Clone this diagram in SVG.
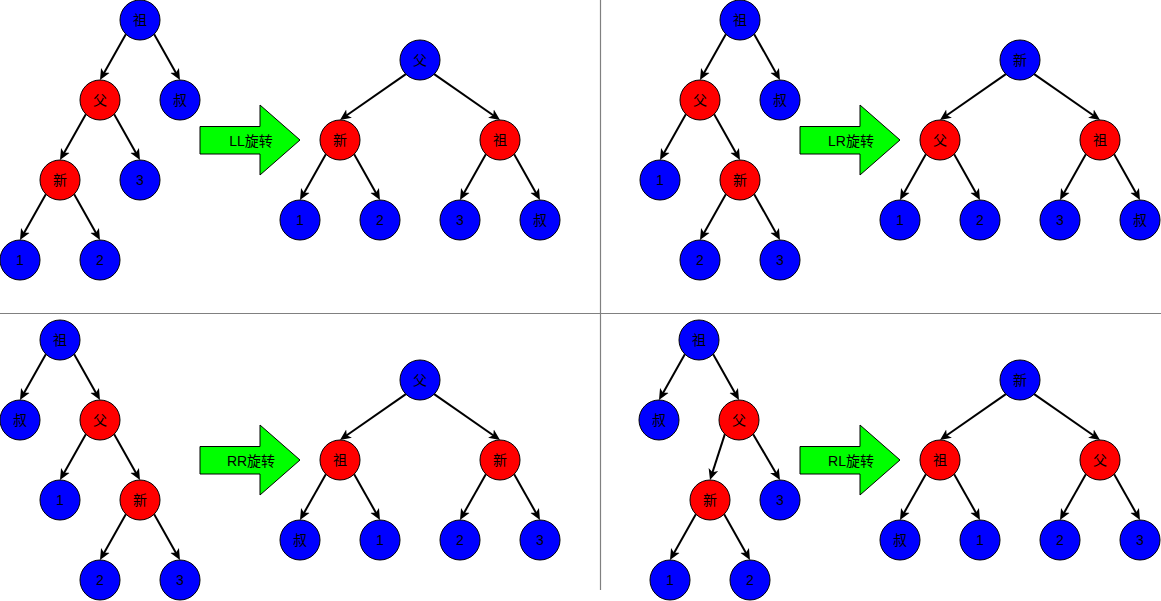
<svg xmlns="http://www.w3.org/2000/svg" width="1161" height="601" viewBox="0 0 1161 601">
<style>
.b{fill:#0000ff;stroke:#000;stroke-width:1}
.r{fill:#ff0000;stroke:#000;stroke-width:1}
text{font-family:"Liberation Sans","Noto Sans CJK SC",sans-serif;font-size:14px;fill:#000;text-anchor:middle}
.e line{stroke:#000;stroke-width:2;marker-end:url(#ah)}
.div{stroke:#808080;stroke-width:1.2}
.ga{fill:#00ff00;stroke:#000;stroke-width:1}
</style>
<defs>
<marker id="ah" markerUnits="userSpaceOnUse" markerWidth="11" markerHeight="11" viewBox="0 0 11 11" refX="4" refY="5.5" orient="auto">
<path d="M0,0.5 L11,5.5 L0,10.5 L2.8,5.5 Z" fill="#000"/>
</marker>
</defs>
<g id="dividers">
<line class="div" x1="600.5" y1="0" x2="600.5" y2="590"/>
<line class="div" x1="0" y1="313.5" x2="1161" y2="313.5"/>
</g>
<g id="connectors" class="e">
<line x1="125.86" y1="34.14" x2="103.44" y2="73.9"/>
<line x1="154.14" y1="34.14" x2="176.56" y2="73.9"/>
<line x1="85.86" y1="114.14" x2="63.44" y2="153.9"/>
<line x1="114.14" y1="114.14" x2="136.56" y2="153.9"/>
<line x1="45.86" y1="194.14" x2="23.44" y2="233.9"/>
<line x1="74.14" y1="194.14" x2="96.56" y2="233.9"/>
<line x1="405.86" y1="74.14" x2="345.74" y2="116"/>
<line x1="434.14" y1="74.14" x2="494.26" y2="116"/>
<line x1="325.86" y1="154.14" x2="303.44" y2="193.9"/>
<line x1="354.14" y1="154.14" x2="376.56" y2="193.9"/>
<line x1="485.86" y1="154.14" x2="463.44" y2="193.9"/>
<line x1="514.14" y1="154.14" x2="536.56" y2="193.9"/>
<line x1="725.86" y1="34.14" x2="703.44" y2="73.9"/>
<line x1="754.14" y1="34.14" x2="776.56" y2="73.9"/>
<line x1="685.86" y1="114.14" x2="663.44" y2="153.9"/>
<line x1="714.14" y1="114.14" x2="736.56" y2="153.9"/>
<line x1="725.86" y1="194.14" x2="703.44" y2="233.9"/>
<line x1="754.14" y1="194.14" x2="776.56" y2="233.9"/>
<line x1="1005.86" y1="74.14" x2="945.74" y2="116"/>
<line x1="1034.14" y1="74.14" x2="1094.26" y2="116"/>
<line x1="925.86" y1="154.14" x2="903.44" y2="193.9"/>
<line x1="954.14" y1="154.14" x2="976.56" y2="193.9"/>
<line x1="1085.86" y1="154.14" x2="1063.44" y2="193.9"/>
<line x1="1114.14" y1="154.14" x2="1136.56" y2="193.9"/>
<line x1="45.86" y1="354.14" x2="23.44" y2="393.9"/>
<line x1="74.14" y1="354.14" x2="96.56" y2="393.9"/>
<line x1="85.86" y1="434.14" x2="63.44" y2="473.9"/>
<line x1="114.14" y1="434.14" x2="136.56" y2="473.9"/>
<line x1="125.86" y1="514.14" x2="103.44" y2="553.9"/>
<line x1="154.14" y1="514.14" x2="176.56" y2="553.9"/>
<line x1="405.86" y1="394.14" x2="345.74" y2="436"/>
<line x1="434.14" y1="394.14" x2="494.26" y2="436"/>
<line x1="325.86" y1="474.14" x2="303.44" y2="513.9"/>
<line x1="354.14" y1="474.14" x2="376.56" y2="513.9"/>
<line x1="485.86" y1="474.14" x2="463.44" y2="513.9"/>
<line x1="514.14" y1="474.14" x2="536.56" y2="513.9"/>
<line x1="684.86" y1="354.14" x2="662.44" y2="393.9"/>
<line x1="713.14" y1="354.14" x2="735.56" y2="393.9"/>
<line x1="724.86" y1="434.14" x2="712.16" y2="473.34"/>
<line x1="753.14" y1="434.14" x2="776.46" y2="473.96"/>
<line x1="695.86" y1="514.14" x2="673.44" y2="553.9"/>
<line x1="724.14" y1="514.14" x2="746.56" y2="553.9"/>
<line x1="1005.86" y1="394.14" x2="945.74" y2="436"/>
<line x1="1034.14" y1="394.14" x2="1094.26" y2="436"/>
<line x1="925.86" y1="474.14" x2="903.44" y2="513.9"/>
<line x1="954.14" y1="474.14" x2="976.56" y2="513.9"/>
<line x1="1085.86" y1="474.14" x2="1063.44" y2="513.9"/>
<line x1="1114.14" y1="474.14" x2="1136.56" y2="513.9"/>
</g>
<g id="arrow-ll"><polygon class="ga" points="200,126.5 260,126.5 260,105 300,140 260,175 260,154 200,154"/><text x="251" y="146">LL旋转</text></g>
<g id="arrow-lr"><polygon class="ga" points="800,126.5 860,126.5 860,105 900,140 860,175 860,154 800,154"/><text x="851" y="146">LR旋转</text></g>
<g id="arrow-rr"><polygon class="ga" points="200,446.5 260,446.5 260,425 300,460 260,495 260,474 200,474"/><text x="251" y="466">RR旋转</text></g>
<g id="arrow-rl"><polygon class="ga" points="800,446.5 860,446.5 860,425 900,460 860,495 860,474 800,474"/><text x="851" y="466">RL旋转</text></g>
<g id="q1l-zu"><circle class="b" cx="140" cy="20" r="20"/><text x="140" y="25">祖</text></g>
<g id="q1l-fu"><circle class="r" cx="100" cy="100" r="20"/><text x="100" y="105">父</text></g>
<g id="q1l-shu"><circle class="b" cx="180" cy="100" r="20"/><text x="180" y="105">叔</text></g>
<g id="q1l-xin"><circle class="r" cx="60" cy="180" r="20"/><text x="60" y="185">新</text></g>
<g id="q1l-3"><circle class="b" cx="140" cy="180" r="20"/><text x="140" y="185">3</text></g>
<g id="q1l-1"><circle class="b" cx="20" cy="260" r="20"/><text x="20" y="265">1</text></g>
<g id="q1l-2"><circle class="b" cx="100" cy="260" r="20"/><text x="100" y="265">2</text></g>
<g id="q1r-fu"><circle class="b" cx="420" cy="60" r="20"/><text x="420" y="65">父</text></g>
<g id="q1r-xin"><circle class="r" cx="340" cy="140" r="20"/><text x="340" y="145">新</text></g>
<g id="q1r-zu"><circle class="r" cx="500" cy="140" r="20"/><text x="500" y="145">祖</text></g>
<g id="q1r-1"><circle class="b" cx="300" cy="220" r="20"/><text x="300" y="225">1</text></g>
<g id="q1r-2"><circle class="b" cx="380" cy="220" r="20"/><text x="380" y="225">2</text></g>
<g id="q1r-3"><circle class="b" cx="460" cy="220" r="20"/><text x="460" y="225">3</text></g>
<g id="q1r-shu"><circle class="b" cx="540" cy="220" r="20"/><text x="540" y="225">叔</text></g>
<g id="q2l-zu"><circle class="b" cx="740" cy="20" r="20"/><text x="740" y="25">祖</text></g>
<g id="q2l-fu"><circle class="r" cx="700" cy="100" r="20"/><text x="700" y="105">父</text></g>
<g id="q2l-shu"><circle class="b" cx="780" cy="100" r="20"/><text x="780" y="105">叔</text></g>
<g id="q2l-1"><circle class="b" cx="660" cy="180" r="20"/><text x="660" y="185">1</text></g>
<g id="q2l-xin"><circle class="r" cx="740" cy="180" r="20"/><text x="740" y="185">新</text></g>
<g id="q2l-2"><circle class="b" cx="700" cy="260" r="20"/><text x="700" y="265">2</text></g>
<g id="q2l-3"><circle class="b" cx="780" cy="260" r="20"/><text x="780" y="265">3</text></g>
<g id="q2r-xin"><circle class="b" cx="1020" cy="60" r="20"/><text x="1020" y="65">新</text></g>
<g id="q2r-fu"><circle class="r" cx="940" cy="140" r="20"/><text x="940" y="145">父</text></g>
<g id="q2r-zu"><circle class="r" cx="1100" cy="140" r="20"/><text x="1100" y="145">祖</text></g>
<g id="q2r-1"><circle class="b" cx="900" cy="220" r="20"/><text x="900" y="225">1</text></g>
<g id="q2r-2"><circle class="b" cx="980" cy="220" r="20"/><text x="980" y="225">2</text></g>
<g id="q2r-3"><circle class="b" cx="1060" cy="220" r="20"/><text x="1060" y="225">3</text></g>
<g id="q2r-shu"><circle class="b" cx="1140" cy="220" r="20"/><text x="1140" y="225">叔</text></g>
<g id="q3l-zu"><circle class="b" cx="60" cy="340" r="20"/><text x="60" y="345">祖</text></g>
<g id="q3l-shu"><circle class="b" cx="20" cy="420" r="20"/><text x="20" y="425">叔</text></g>
<g id="q3l-fu"><circle class="r" cx="100" cy="420" r="20"/><text x="100" y="425">父</text></g>
<g id="q3l-1"><circle class="b" cx="60" cy="500" r="20"/><text x="60" y="505">1</text></g>
<g id="q3l-xin"><circle class="r" cx="140" cy="500" r="20"/><text x="140" y="505">新</text></g>
<g id="q3l-2"><circle class="b" cx="100" cy="580" r="20"/><text x="100" y="585">2</text></g>
<g id="q3l-3"><circle class="b" cx="180" cy="580" r="20"/><text x="180" y="585">3</text></g>
<g id="q3r-fu"><circle class="b" cx="420" cy="380" r="20"/><text x="420" y="385">父</text></g>
<g id="q3r-zu"><circle class="r" cx="340" cy="460" r="20"/><text x="340" y="465">祖</text></g>
<g id="q3r-xin"><circle class="r" cx="500" cy="460" r="20"/><text x="500" y="465">新</text></g>
<g id="q3r-shu"><circle class="b" cx="300" cy="540" r="20"/><text x="300" y="545">叔</text></g>
<g id="q3r-1"><circle class="b" cx="380" cy="540" r="20"/><text x="380" y="545">1</text></g>
<g id="q3r-2"><circle class="b" cx="460" cy="540" r="20"/><text x="460" y="545">2</text></g>
<g id="q3r-3"><circle class="b" cx="540" cy="540" r="20"/><text x="540" y="545">3</text></g>
<g id="q4l-zu"><circle class="b" cx="699" cy="340" r="20"/><text x="699" y="345">祖</text></g>
<g id="q4l-shu"><circle class="b" cx="659" cy="420" r="20"/><text x="659" y="425">叔</text></g>
<g id="q4l-fu"><circle class="r" cx="739" cy="420" r="20"/><text x="739" y="425">父</text></g>
<g id="q4l-xin"><circle class="r" cx="710" cy="500" r="20"/><text x="710" y="505">新</text></g>
<g id="q4l-3"><circle class="b" cx="780" cy="500" r="20"/><text x="780" y="505">3</text></g>
<g id="q4l-1"><circle class="b" cx="670" cy="580" r="20"/><text x="670" y="585">1</text></g>
<g id="q4l-2"><circle class="b" cx="750" cy="580" r="20"/><text x="750" y="585">2</text></g>
<g id="q4r-xin"><circle class="b" cx="1020" cy="380" r="20"/><text x="1020" y="385">新</text></g>
<g id="q4r-zu"><circle class="r" cx="940" cy="460" r="20"/><text x="940" y="465">祖</text></g>
<g id="q4r-fu"><circle class="r" cx="1100" cy="460" r="20"/><text x="1100" y="465">父</text></g>
<g id="q4r-shu"><circle class="b" cx="900" cy="540" r="20"/><text x="900" y="545">叔</text></g>
<g id="q4r-1"><circle class="b" cx="980" cy="540" r="20"/><text x="980" y="545">1</text></g>
<g id="q4r-2"><circle class="b" cx="1060" cy="540" r="20"/><text x="1060" y="545">2</text></g>
<g id="q4r-3"><circle class="b" cx="1140" cy="540" r="20"/><text x="1140" y="545">3</text></g>
</svg>
